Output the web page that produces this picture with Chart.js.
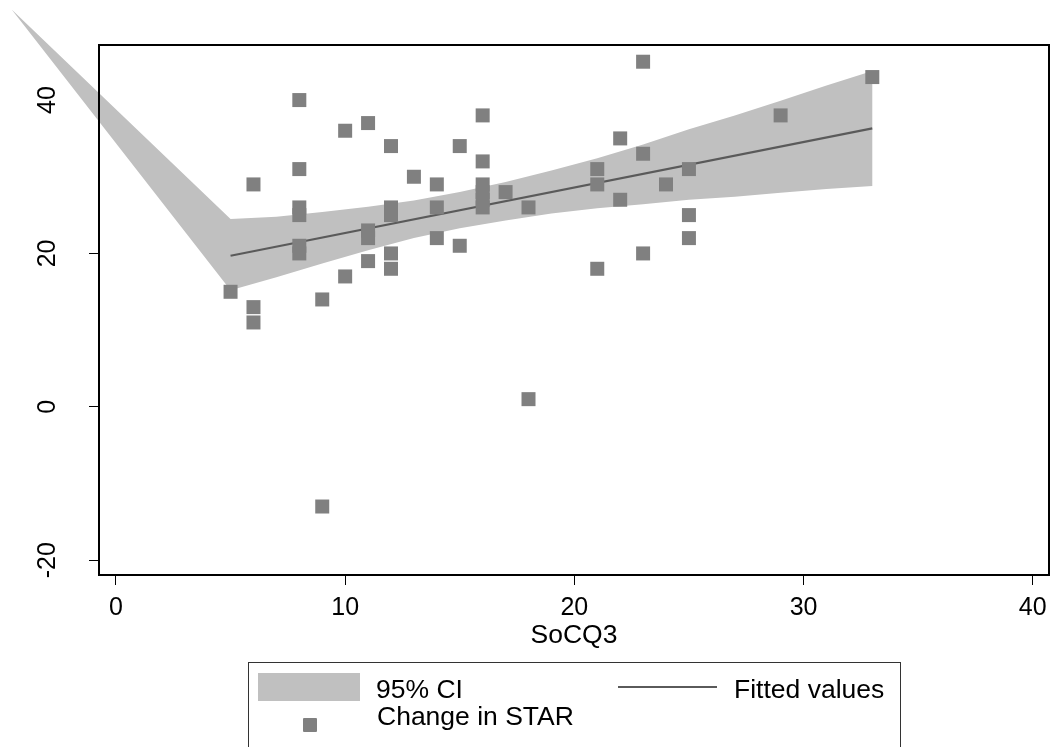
<!DOCTYPE html>
<html>
<head>
<meta charset="utf-8">
<title>Change in STAR by SoCQ3</title>
<script src="https://cdn.jsdelivr.net/npm/chart.js@4.4.1/dist/chart.umd.min.js"></script>
<style>
    html, body { margin: 0; padding: 0; background: #fff; }
    .wrap { position: relative; width: 1051px; height: 747px; overflow: hidden; font-family: 'Liberation Sans', Arial, sans-serif; }
    #chart { position: absolute; left: 0; top: 0; }
    .legend { position: absolute; left: 248px; top: 662px; width: 653px; height: 120px; border: 1px solid #333; box-sizing: border-box; }
    .legend__text { position: absolute; font-size: 26.5px; line-height: 26.5px; color: #000; white-space: nowrap; }
    .legend__ci { position: absolute; left: 9px; top: 10px; width: 102px; height: 28px; background: #c0c0c0; }
    .legend__fit { position: absolute; left: 369px; top: 23px; width: 99px; height: 2px; background: #5a5a5a; }
    .legend__marker { position: absolute; left: 54px; top: 55px; width: 14px; height: 14px; background: #808080; border-radius: 1px; }
</style>
</head>
<body>
<div class="wrap">
    <canvas id="chart" width="1051" height="747"></canvas>
    <div class="legend">
        <span class="legend__ci"></span>
        <span class="legend__text" style="left:127px; top:12.5px;">95% CI</span>
        <span class="legend__fit"></span>
        <span class="legend__text" style="left:485px; top:12.5px;">Fitted values</span>
        <span class="legend__marker"></span>
        <span class="legend__text" style="left:128px; top:39.5px;">Change in STAR</span>
    </div>
</div>
<script>
const socq3 = [
    5, 6, 6, 6, 8, 8, 8, 8, 8, 8, 9, 9, 10, 10, 11, 11, 11, 11,
    12, 12, 12, 12, 12, 13, 14, 14, 14, 15, 15, 16, 16, 16, 16, 16, 16,
    17, 18, 18, 21, 21, 21, 22, 22, 23, 23, 23, 24, 25, 25, 25, 29, 33,
];
const starChange = [
    15, 29, 13, 11, 40, 31, 26, 25, 21, 20, 14, -13, 36, 17, 37, 23, 22, 19,
    34, 26, 25, 20, 18, 30, 29, 26, 22, 34, 21, 38, 32, 29, 28, 27, 26,
    28, 26, 1, 31, 29, 18, 35, 27, 45, 33, 20, 29, 31, 25, 22, 38, 43,
];

const fitX = [5, 33];
const fitY = [19.7, 36.3];

const ciX =     [-4.55, 5,    7,    9,    11,   13,   15,   17,   19,   21,   23,   25,   27,   29,   31,   33];
const ciUpper = [51.8,  24.5, 24.8, 25.4, 26.1, 26.9, 28.0, 29.3, 30.8, 32.4, 34.2, 36.2, 38.0, 39.9, 41.9, 43.8];
const ciLower = [51.8,  15.2, 16.9, 18.7, 20.4, 22.0, 23.3, 24.3, 25.2, 25.9, 26.4, 27.0, 27.4, 27.9, 28.4, 28.8];

const xTicks = [0, 10, 20, 30, 40];
const yTicks = [-20, 0, 20, 40];

const CI_GREY = '#c0c0c0';
const MARKER_GREY = '#808080';
const LINE_GREY = '#5a5a5a';

const ciBand = [
    ...ciX.map((x, i) => ({x, y: ciUpper[i]})),
    ...ciX.map((x, i) => ({x, y: ciLower[i]})).reverse(),
];

// the band runs past the plot region, so fill it from the dataset's own points
const ciBandFill = {
    id: 'ciBandFill',
    beforeDatasetDraw(chart, args) {
        if (args.meta.label !== '95% CI') return;
        const ctx = chart.ctx;
        ctx.save();
        ctx.beginPath();
        args.meta.data.forEach((p, i) => (i === 0 ? ctx.moveTo(p.x, p.y) : ctx.lineTo(p.x, p.y)));
        ctx.closePath();
        ctx.fillStyle = CI_GREY;
        ctx.fill();
        ctx.restore();
    },
};

const plotFrame = {
    id: 'plotFrame',
    afterDatasetsDraw(chart) {
        const {ctx, chartArea: a} = chart;
        ctx.save();
        ctx.strokeStyle = '#000';
        ctx.lineWidth = 2;
        ctx.strokeRect(a.left, a.top, a.right - a.left, a.bottom - a.top);
        ctx.restore();
    },
};

Chart.defaults.font.family = "'Liberation Sans', Arial, sans-serif";
Chart.defaults.color = '#000';

new Chart(document.querySelector('#chart'), {
    type: 'scatter',
    data: {
        datasets: [
            {
                label: 'Change in STAR',
                data: socq3.map((x, i) => ({x, y: starChange[i]})),
                pointStyle: 'rect',
                pointRadius: 9.9,
                backgroundColor: MARKER_GREY,
                borderWidth: 0,
                order: 0,
            },
            {
                label: 'Fitted values',
                data: fitX.map((x, i) => ({x, y: fitY[i]})),
                showLine: true,
                borderColor: LINE_GREY,
                borderWidth: 2.2,
                pointRadius: 0,
                order: 1,
            },
            {
                label: '95% CI',
                data: ciBand,
                showLine: false,
                pointRadius: 0,
                clip: false,
                order: 2,
            },
        ],
    },
    options: {
        responsive: false,
        animation: false,
        events: [],
        layout: { autoPadding: false, padding: { left: 0, top: 45, right: 2, bottom: 95 } },
        scales: {
            x: {
                type: 'linear',
                min: -0.74,
                max: 40.71,
                afterBuildTicks: (s) => { s.ticks = xTicks.map((value) => ({value})); },
                afterFit: (s) => { s.height = 77; s.paddingLeft = 0; s.paddingRight = 0; },
                ticks: { font: { size: 25 }, padding: 8, maxRotation: 0, callback: (v) => String(v) },
                grid: { drawOnChartArea: false, drawTicks: true, tickLength: 10, color: '#000', lineWidth: 1 },
                border: { display: false },
                title: { display: true, text: 'SoCQ3', font: { size: 26.5 }, padding: 0 },
            },
            y: {
                type: 'linear',
                min: -21.93,
                max: 47.18,
                afterBuildTicks: (s) => { s.ticks = yTicks.map((value) => ({value})); },
                afterFit: (s) => { s.width = 99; s.paddingTop = 0; s.paddingBottom = 0; },
                ticks: { font: { size: 25 }, padding: 23, minRotation: 90, maxRotation: 90, crossAlign: 'center', callback: (v) => String(v) },
                grid: { drawOnChartArea: false, drawTicks: true, tickLength: 10, color: '#000', lineWidth: 1 },
                border: { display: false },
            },
        },
        plugins: {
            legend: { display: false },
            tooltip: { enabled: false },
        },
    },
    plugins: [ciBandFill, plotFrame],
});
</script>
</body>
</html>
